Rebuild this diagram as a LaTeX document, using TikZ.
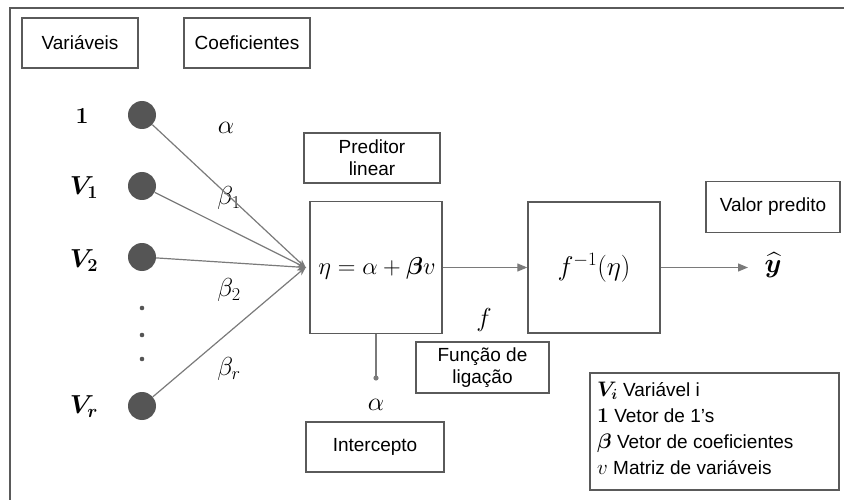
\RequirePackage{fix-cm}
\documentclass[tikz,border=0pt]{standalone}
\usepackage{amsmath,bm}
\usepackage[no-math]{fontspec}
\setmainfont{Liberation Sans}
\usetikzlibrary{arrows.meta}
\definecolor{boxgray}{HTML}{5A5A5A}
\definecolor{linegray}{HTML}{7A7A7A}
\definecolor{dotgray}{HTML}{555555}
\tikzset{
  mth/.style={font=\fontsize{26}{30}\selectfont, inner sep=0pt},
  smth/.style={font=\fontsize{23}{27}\selectfont, inner sep=0pt},
  bigmth/.style={font=\fontsize{27}{31}\selectfont, inner sep=0pt},
  etamth/.style={font=\fontsize{24.5}{29}\selectfont, inner sep=0pt},
  tbox/.style={draw=boxgray, line width=1.3pt, fill=white, align=center, inner sep=0pt,
               font=\fontsize{19}{23}\selectfont},
  mbox/.style={draw=boxgray, line width=1.4pt, inner sep=0pt},
  vdot/.style={circle, fill=dotgray, minimum size=28pt, inner sep=0pt},
  conn/.style={draw=linegray, line width=1.2pt},
  arr/.style={conn, -{Triangle[length=10pt,width=8pt]}},
  conv/.style={conn, -{Stealth[length=9pt,width=7pt]}, shorten >=-1pt},
}
\begin{document}
\begin{tikzpicture}[x=1pt,y=-1pt]
\useasboundingbox (0,0) rectangle (844,500);
% outer frame (cropped)
\draw[boxgray, line width=1.6pt] (10,500) -- (10,8) -- (844,8);

% header boxes
\node[tbox, minimum width=116pt, minimum height=50pt] (var) at (80,43) {Variáveis};
\node[tbox, minimum width=126pt, minimum height=50pt] (coef) at (247,43) {Coeficientes};

% variables
\node[vdot] (c0) at (142,115) {};
\node[vdot] (c1) at (142,186) {};
\node[vdot] (c2) at (142,257) {};
\node[vdot] (cr) at (142,406) {};
\node[smth] (l0) at (82,116) {$\mathbf{1}$};
\node[mth] (l1) at (84,188) {$\boldsymbol{V_1}$};
\node[mth] (l2) at (84,261) {$\boldsymbol{V_2}$};
\node[mth] (lr) at (84,407) {$\boldsymbol{V_r}$};
\fill[dotgray] (142,308) circle (2.3pt) (142,335) circle (2.3pt) (142,359) circle (2.3pt);

% coefficients
\node[mth] (a0) at (226,128) {$\alpha$};
\node[mth] (b1) at (229,198) {$\beta_1$};
\node[mth] (b2) at (229,290) {$\beta_2$};
\node[mth] (br) at (229,369) {$\beta_r$};

% linear predictor
\node[tbox, minimum width=136pt, minimum height=50pt] (pred) at (372,158) {Preditor\\[-1pt]linear};
\node[mbox, minimum width=132pt, minimum height=132pt] (eta) at (376,267.5) {};
\node[etamth] (etatxt) at (377,268) {$\eta=\alpha+\boldsymbol{\beta} v$};
\coordinate (cv) at ([xshift=-4pt]eta.west);
\draw[conv] (c0) -- (cv);
\draw[conv] (c1) -- (cv);
\draw[conv] (c2) -- (cv);
\draw[conv] (cr) -- (cv);

% inverse link
\node[mbox, minimum width=132pt, minimum height=131pt] (fb) at (594,267.5) {};
\node[bigmth] (ftxt) at (594,268) {$f^{-1}(\eta)$};
\draw[arr] (eta.east) -- (fb.west);
\node[bigmth] (yhat) at (773,265) {$\widehat{\boldsymbol{y}}$};
\draw[arr] (fb.east) -- (748,267.5);
\node[tbox, minimum width=134pt, minimum height=51pt] (valor) at (773,207) {Valor predito};

% link function
\node[mth] (flab) at (484,320) {$f$};
\node[tbox, minimum width=133pt, minimum height=51pt] (func) at (482.5,367.5) {Função de\\[-1pt]ligação};

% intercept
\coordinate (idot) at (376,378);
\draw[conn] (eta.south) -- (idot);
\fill[linegray] (idot) circle (2.6pt);
\node[mth] (ia) at (376,405) {$\alpha$};
\node[tbox, minimum width=138pt, minimum height=50pt] (inter) at (375,447) {Intercepto};

% legend
\node[draw=boxgray, line width=1.3pt, minimum width=249pt, minimum height=117pt] (leg) at (714.5,431.5) {};
\node[anchor=north west, align=left, inner sep=0pt,
      font=\fontsize{19}{26}\selectfont] (legtxt) at (597,382)
  {{\fontsize{21}{26}\selectfont$\boldsymbol{V_i}$} Variável i\\
   {\fontsize{21}{26}\selectfont$\mathbf{1}$} Vetor de 1’s\\
   {\fontsize{21}{26}\selectfont$\boldsymbol{\beta}$} Vetor de coeficientes\\
   {\fontsize{21}{26}\selectfont$v$} Matriz de variáveis};
\end{tikzpicture}
\end{document}
